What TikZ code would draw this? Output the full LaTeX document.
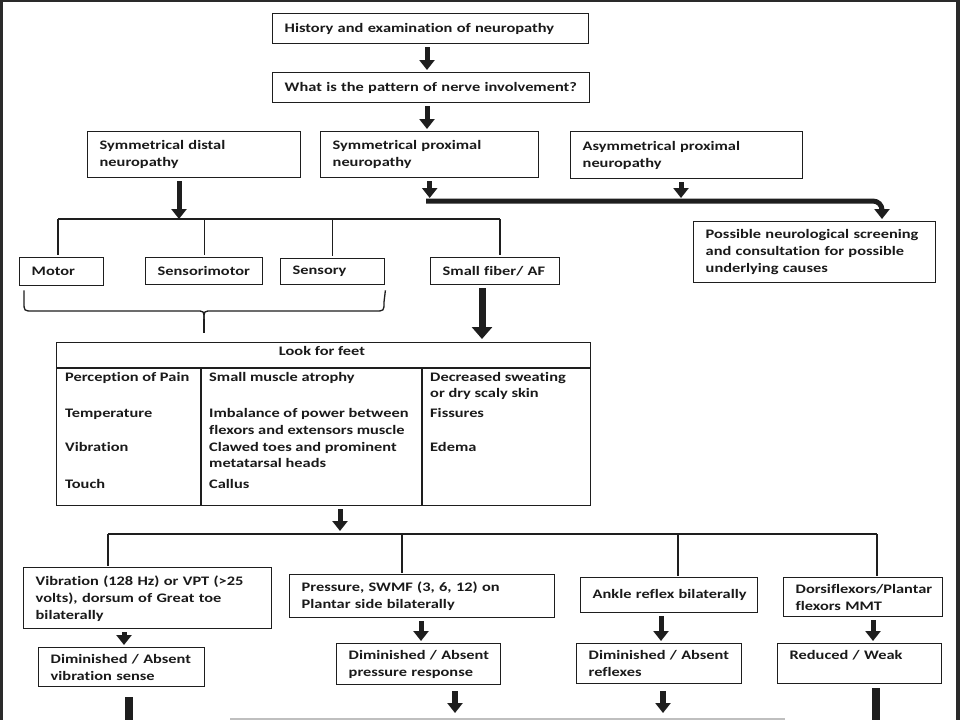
\documentclass[tikz,border=0pt]{standalone}
\usepackage{fontspec}
\setmainfont{Carlito}[FakeStretch=1.26, Ligatures=NoCommon]
\usetikzlibrary{arrows.meta,calc}
\definecolor{ink}{HTML}{1E1E1E}
\definecolor{txt}{HTML}{1A1A1A}
\definecolor{frame}{HTML}{2A2A2A}
\begin{document}
\begin{tikzpicture}[x=1pt,y=-1pt,
  font=\fontsize{13}{17}\selectfont\bfseries,
  box/.style={draw=ink, line width=1.4pt, anchor=north west, align=left, inner xsep=12pt, inner ysep=0pt, text=txt},
  arr/.style={draw=ink, line width=5pt, -{Triangle[width=15pt,length=10pt]}, shorten <=3pt, shorten >=2pt},
  arrb/.style={draw=ink, line width=7pt, -{Triangle[width=20pt,length=12pt]}, shorten <=3pt, shorten >=3pt},
  thickline/.style={draw=ink, line width=5pt},
  thinline/.style={draw=ink, line width=1.3pt},
  cell/.style={anchor=base west, inner sep=0pt, text=txt},
]
\useasboundingbox (0,0) rectangle (960,720);
\fill[white] (0,0) rectangle (960,720);
\fill[frame] (0,0) rectangle (3,720);
\fill[frame] (0,0) rectangle (960,2);
\fill[frame] (956,0) rectangle (960,720);

% boxes
\node[box, minimum width=316pt, minimum height=30pt, text width=292pt] (h1) at (272,13) {\mbox{History and examination of neuropathy}};
\node[box, minimum width=317pt, minimum height=30pt, text width=293pt] (h2) at (272,72) {\mbox{What is the pattern of nerve involvement?}};
\node[box, minimum width=213pt, minimum height=46pt, text width=189pt] (sd) at (87,131) {\mbox{Symmetrical distal}\\\mbox{neuropathy}};
\node[box, minimum width=218pt, minimum height=46pt, text width=194pt] (sp) at (320,131) {\mbox{Symmetrical proximal}\\\mbox{neuropathy}};
\node[box, minimum width=232pt, minimum height=47pt, text width=208pt] (ap) at (570,131) {\mbox{Asymmetrical proximal}\\\mbox{neuropathy}};
\node[box, minimum width=242pt, minimum height=61pt, text width=218pt] (poss) at (693,221) {\mbox{Possible neurological screening}\\\mbox{and consultation for possible}\\\mbox{underlying causes}};
\node[box, minimum width=84pt, minimum height=28pt, text width=60pt] (motor) at (19,257) {\mbox{Motor}};
\node[box, minimum width=117pt, minimum height=27pt, text width=93pt] (smotor) at (145,257) {\mbox{Sensorimotor}};
\node[box, minimum width=104pt, minimum height=26pt, text width=80pt] (sensory) at (280,258) {\mbox{Sensory}};
\node[box, minimum width=129pt, minimum height=27pt, text width=105pt] (small) at (430,257) {\mbox{Small fiber/ AF}};

% table
\node[draw=ink, line width=1.4pt, anchor=north west, minimum width=534pt, minimum height=163pt, inner sep=0pt] (feet) at (56,342) {};
\coordinate (hdL) at (56,368); \coordinate (c1) at (201,368); \coordinate (c2) at (422,368);
\draw[thinline] (hdL) -- (hdL -| feet.east);
\draw[thinline] (c1) -- (c1 |- feet.south);
\draw[thinline] (c2) -- (c2 |- feet.south);
\node[anchor=base, inner sep=0pt, text=txt] (hd) at (322,355.5) {Look for feet};
\node[cell] (a1) at (65,381) {Perception of Pain};
\node[cell] (a2) at (65,417.5) {Temperature};
\node[cell] (a3) at (65,451) {Vibration};
\node[cell] (a4) at (65,488.5) {Touch};
\node[cell] (b1) at (209,381) {Small muscle atrophy};
\node[cell] (b2) at (209,417.5) {Imbalance of power between};
\node[cell] (b3) at (209,434.5) {flexors and extensors muscle};
\node[cell] (b4) at (209,451) {Clawed toes and prominent};
\node[cell] (b5) at (209,467.5) {metatarsal heads};
\node[cell] (b6) at (209,488.5) {Callus};
\node[cell] (d1) at (430,381) {Decreased sweating};
\node[cell] (d2) at (430,397.5) {or dry scaly skin};
\node[cell] (d3) at (430,417.5) {Fissures};
\node[cell] (d4) at (430,451) {Edema};

% lower boxes
\node[box, minimum width=248pt, minimum height=61pt, text width=224pt] (vib) at (23,567) {\mbox{Vibration (128 Hz) or VPT (>25}\\\mbox{volts), dorsum of Great toe}\\\mbox{bilaterally}};
\node[box, minimum width=265pt, minimum height=43pt, text width=241pt] (press) at (289,574) {\mbox{Pressure, SWMF (3, 6, 12) on}\\\mbox{Plantar side bilaterally}};
\node[box, minimum width=177pt, minimum height=35pt, text width=153pt] (ankle) at (580,577) {\mbox{Ankle reflex bilaterally}};
\node[box, minimum width=159pt, minimum height=39pt, text width=135pt] (dorsi) at (783,577) {\mbox{Dorsiflexors/Plantar}\\\mbox{flexors MMT}};
\node[box, minimum width=166pt, minimum height=39pt, text width=142pt] (dvib) at (38,647) {\mbox{Diminished / Absent}\\\mbox{vibration sense}};
\node[box, minimum width=164pt, minimum height=41pt, text width=140pt] (dpress) at (336,643) {\mbox{Diminished / Absent}\\\mbox{pressure response}};
\node[box, minimum width=165pt, minimum height=40pt, text width=141pt] (drefl) at (576,643) {\mbox{Diminished / Absent}\\\mbox{reflexes}};
\node[box, minimum width=164pt, minimum height=40pt, text width=140pt] (reduced) at (777,643) {\mbox{Reduced / Weak}\\\mbox{}};

% top connectors
\coordinate (x427) at (427,0);
\draw[arr] (h1.south -| x427) -- (h2.north -| x427);
\draw[arr] (h2.south -| x427) -- (sp.north -| x427);

% upper bus
\coordinate (b1L) at (58,219); \coordinate (b1R) at (500,219);
\coordinate (x179) at (179,0);
\draw[thinline] (b1L) -- (b1R);
\draw[arr, shorten >=0pt] (sd.south -| x179) -- (b1L -| x179);
\draw[thinline, shorten >=2pt] (b1L) -- (b1L |- motor.north);
\draw[thinline, shorten >=2pt] (smotor.north |- b1L) -- (smotor.north);
\draw[thinline, shorten >=2pt] (sensory.north |- b1L) -- (sensory.north);
\draw[thinline, shorten >=2pt] (b1R) -- (b1R |- small.north);

% thick L path to screening box
\coordinate (Ls) at (426,201); \coordinate (Lc) at (882,201);
\coordinate (x681) at (681,0);
\draw[arr, shorten >=3pt] (sp.south) -- (sp.south |- Ls);
\draw[arr, shorten >=3pt] (ap.south -| x681) -- (Ls -| x681);
\draw[thickline, rounded corners=9pt, -{Triangle[width=15pt,length=10pt]}, shorten >=2pt] (Ls) -- (Lc) -- (Lc |- poss.north);

% brace
\coordinate (brL) at ($(motor.south west)+(5,4)$);
\coordinate (brR) at ($(sensory.south east)+(0,5)$);
\coordinate (brM) at (204,319);
\draw[thinline] (brL) -- (24,302) .. controls (24,311) .. (33,311) -- (196,311) .. controls (204,311) .. (brM);
\draw[thinline] (brR) -- (384,302) .. controls (384,311) .. (375,311) -- (212,311) .. controls (204,311) .. (brM);
\draw[thinline, shorten >=9pt] (brM) -- (brM |- feet.north);

% small fiber arrow
\coordinate (x482) at (482,0);
\draw[arrb] (small.south -| x482) -- (feet.north -| x482);

% lower bus
\coordinate (b2L) at (108,534); \coordinate (b2R) at (877,534);
\coordinate (b2b) at (402,534); \coordinate (b2c) at (678,534);
\coordinate (x340) at (340,0);
\draw[arr, shorten >=3pt] (feet.south -| x340) -- (b2L -| x340);
\draw[thinline] (b2L) -- (b2R);
\draw[thinline, shorten >=1pt] (b2L) -- (b2L |- vib.north);
\draw[thinline, shorten >=1pt] (b2b) -- (b2b |- press.north);
\draw[thinline, shorten >=1pt] (b2c) -- (b2c |- ankle.north);
\draw[thinline, shorten >=1pt] (b2R) -- (b2R |- dorsi.north);

% row arrows
\coordinate (x124) at (124,0); \coordinate (x421) at (421,0);
\coordinate (x661) at (661,0); \coordinate (x873) at (873,0);
\draw[arr] (vib.south -| x124) -- (dvib.north -| x124);
\draw[arr] (press.south -| x421) -- (dpress.north -| x421);
\draw[arr] (ankle.south -| x661) -- (drefl.north -| x661);
\draw[arr] (dorsi.south -| x873) -- (reduced.north -| x873);

% bottom (cut off)
\coordinate (e1) at (128.5,720); \coordinate (e2) at (455,713);
\coordinate (e3) at (663,713); \coordinate (e4) at (875.5,720);
\draw[draw=ink, line width=8pt, shorten <=10pt] (dvib.south -| e1) -- (e1);
\draw[arr, line width=6pt, shorten <=6pt, shorten >=0pt] (dpress.south -| e2) -- (e2);
\draw[arr, line width=6pt, shorten <=7pt, shorten >=0pt] (drefl.south -| e3) -- (e3);
\draw[draw=ink, line width=8pt, shorten <=4pt] (reduced.south -| e4) -- (e4);
\coordinate (g1) at (230,719); \coordinate (g2) at (785,719);
\draw[draw=black!25, line width=1.5pt] (g1) -- (g2);
\end{tikzpicture}
\end{document}
